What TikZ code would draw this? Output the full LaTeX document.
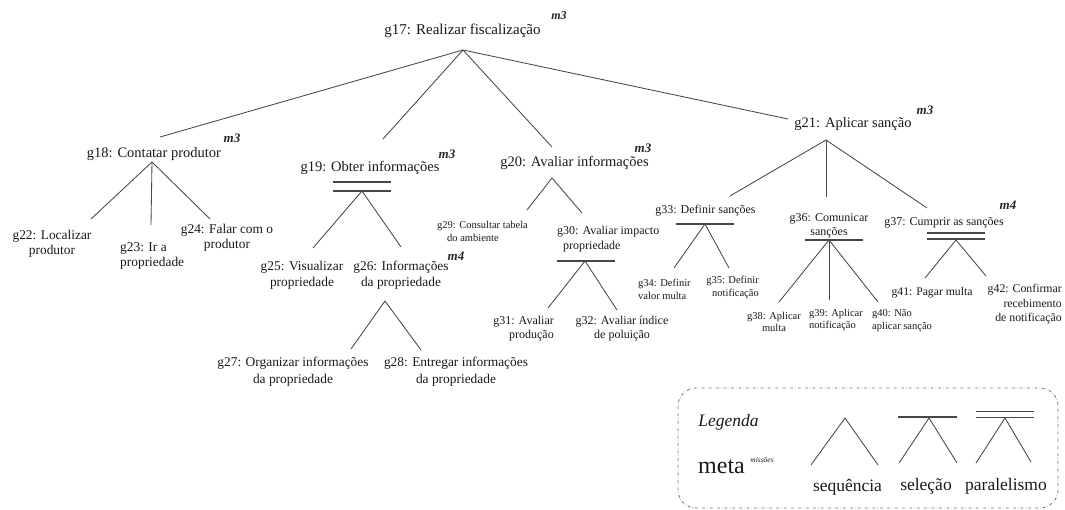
\documentclass[tikz,border=0pt]{standalone}
\usepackage{fontspec}
\setmainfont{Liberation Serif}
\newcommand{\fsz}[2]{\fontsize{#1}{#2}\selectfont}
\begin{document}
\begin{tikzpicture}[x=1pt,y=-1pt,
  lab/.style={inner sep=0pt, text=black!90, align=center},
  mlab/.style={inner sep=0pt, text=black!85, font=\fsz{13}{13}\bfseries\itshape},
  link/.style={draw=black!72, line width=0.85pt},
  bar/.style={draw=black!72, line width=1.1pt}]
\useasboundingbox (0,0) rectangle (1065,510);

% ---------- root goal ----------
\node[lab,font=\fsz{15}{17}] (g17) at (462.5,31) {g17: Realizar fiscalização};
\node[mlab,font=\fsz{12}{12}\bfseries\itshape] (m17) at (559,16) {m3};
\coordinate (a17) at (463,50);
\coordinate (t18) at (160,137);
\coordinate (t19) at (383,139);
\coordinate (t20) at (552,147);
\coordinate (t21) at (788,119);
\foreach \t in {t18,t19,t20,t21} \draw[link] (a17) -- (\t);

% ---------- first level ----------
\node[lab,font=\fsz{14.5}{17}] (g18) at (154,154) {g18: Contatar produtor};
\node[mlab] (m18) at (232,138) {m3};
\node[lab,font=\fsz{14.5}{17}] (g19) at (370,168) {g19: Obter informações};
\node[mlab] (m19) at (447,154) {m3};
\node[lab,font=\fsz{14.5}{17}] (g20) at (574.5,163) {g20: Avaliar informações};
\node[mlab] (m20) at (643,148) {m3};
\node[lab,font=\fsz{14.5}{17}] (g21) at (853,124) {g21: Aplicar sanção};
\node[mlab] (m21) at (925,110) {m3};

% ---------- g18: sequence ----------
\coordinate (a18) at (152,162);
\coordinate (t22) at (91,219);
\coordinate (t23) at (151,225);
\coordinate (t24) at (210,219);
\foreach \t in {t22,t23,t24} \draw[link] (a18) -- (\t);
\node[lab,font=\fsz{13.4}{15}] (g22) at (52,244) {g22: Localizar\\produtor};
\node[lab,font=\fsz{13.4}{15},align=left,anchor=west] (g23) at (120,255.5) {g23: Ir a\\propriedade};
\node[lab,font=\fsz{13.4}{15.5}] (g24) at (227,238) {g24: Falar com o\\produtor};

% ---------- g19: parallelism ----------
\coordinate (a19) at (362,191);
\draw[bar] ([shift={(-29,-9)}]a19) -- ([shift={(29,-9)}]a19);
\draw[bar] ([shift={(-29,0)}]a19) -- ([shift={(29,0)}]a19);
\coordinate (t25) at (313,248);
\coordinate (t26) at (401,247);
\foreach \t in {t25,t26} \draw[link] (a19) -- (\t);
\node[lab,font=\fsz{13.4}{16}] (g25) at (302,275) {g25: Visualizar\\propriedade};
\node[lab,font=\fsz{13.4}{16}] (g26) at (401,275) {g26: Informações\\da propriedade};
\node[mlab] (m26) at (456,256) {m4};
\coordinate (a26) at (385,301);
\coordinate (t27) at (351,349);
\coordinate (t28) at (421,350);
\foreach \t in {t27,t28} \draw[link] (a26) -- (\t);
\node[lab,font=\fsz{13.4}{17}] (g27) at (293,371.5) {g27: Organizar informações\\da propriedade};
\node[lab,font=\fsz{13.4}{17}] (g28) at (456,371.5) {g28: Entregar informações\\da propriedade};

% ---------- g20: sequence ----------
\coordinate (a20) at (552,178);
\coordinate (t29) at (527,210);
\coordinate (t30) at (582,213);
\foreach \t in {t29,t30} \draw[link] (a20) -- (\t);
\node[lab,font=\fsz{10.5}{13},align=left,anchor=west] (g29) at (437,231.5) {g29: Consultar tabela\\\hspace*{10pt}do ambiente};
\node[lab,font=\fsz{12}{15},align=left,anchor=west] (g30) at (557,239.5) {g30: Avaliar impacto\\\hspace*{6pt}propriedade};
\coordinate (a30) at (585,261);
\draw[bar] ([shift={(-28,0)}]a30) -- ([shift={(30,0)}]a30);
\coordinate (t31) at (548,308);
\coordinate (t32) at (617,310);
\foreach \t in {t31,t32} \draw[link] (a30) -- (\t);
\node[lab,font=\fsz{12}{14},align=right,anchor=east] (g31) at (554,329) {g31: Avaliar\\produção};
\node[lab,font=\fsz{12}{14}] (g32) at (622,329) {g32: Avaliar índice\\de poluição};

% ---------- g21: sequence ----------
\coordinate (a21) at (826,140);
\coordinate (t33) at (730,196);
\coordinate (t36) at (826,197);
\coordinate (t37) at (927,208);
\foreach \t in {t33,t36,t37} \draw[link] (a21) -- (\t);

% g33: selection
\node[lab,font=\fsz{12}{14}] (g33) at (705.5,211) {g33: Definir sanções};
\coordinate (a33) at (705,224);
\draw[bar] ([shift={(-29,0)}]a33) -- ([shift={(29,0)}]a33);
\coordinate (t34) at (674,268);
\coordinate (t35) at (729,268);
\foreach \t in {t34,t35} \draw[link] (a33) -- (\t);
\node[lab,font=\fsz{10.5}{13},align=left,anchor=west] (g34) at (638,289.5) {g34: Definir\\valor multa};
\node[lab,font=\fsz{10.5}{13},align=right,anchor=east] (g35) at (759,287.5) {g35: Definir\\notificação};

% g36: selection
\node[lab,font=\fsz{12}{14}] (g36) at (829,226) {g36: Comunicar\\sanções};
\coordinate (a36) at (829,240);
\draw[bar] ([shift={(-24,0)}]a36) -- ([shift={(34,0)}]a36);
\coordinate (t38) at (779,302);
\coordinate (t39) at (829,300);
\coordinate (t40) at (878,302);
\foreach \t in {t38,t39,t40} \draw[link] (a36) -- (\t);
\node[lab,font=\fsz{10.5}{12}] (g38) at (774,322) {g38: Aplicar\\multa};
\node[lab,font=\fsz{10.5}{12},align=left,anchor=west] (g39) at (809,320) {g39: Aplicar\\notificação};
\node[lab,font=\fsz{10.5}{13},align=left,anchor=west] (g40) at (872,320.5) {g40: Não\\aplicar sanção};

% g37: parallelism
\node[lab,font=\fsz{12}{14}] (g37) at (944,223) {g37: Cumprir as sanções};
\node[mlab] (m37) at (1008,205) {m4};
\coordinate (a37) at (956,240);
\draw[bar] ([shift={(-29,-7)}]a37) -- ([shift={(29,-7)}]a37);
\draw[bar] ([shift={(-29,-1)}]a37) -- ([shift={(29,-1)}]a37);
\coordinate (t41) at (925,278);
\coordinate (t42) at (986,276);
\foreach \t in {t41,t42} \draw[link] (a37) -- (\t);
\node[lab,font=\fsz{11.7}{14}] (g41) at (932,293) {g41: Pagar multa};
\node[lab,font=\fsz{11.8}{14.5},align=right,anchor=east] (g42) at (1062,304.5) {g42: Confirmar\\recebimento\\de notificação};

% ---------- legend ----------
\draw[black!55, dash dot, rounded corners=18pt, line width=0.8pt] (678,388) rectangle (1058,508);
\node[lab,font=\fsz{17.5}{18}\itshape] (leg) at (728.5,422) {Legenda};
\node[lab,font=\fsz{24}{24}] (meta) at (721.5,467) {meta};
\node[lab,font=\fsz{7.5}{8}\itshape] (miss) at (762,460) {missões};

% sequence sample
\coordinate (ls) at (845,418);
\draw[link] (811,465) -- (ls) -- (878,465);
\node[lab,font=\fsz{17.5}{18}] (lseq) at (847.5,487) {sequência};
% selection sample
\coordinate (lsel) at (929,418);
\draw[bar] (898,417) -- (957,417);
\draw[link] (899,463) -- (lsel) -- (957,463);
\node[lab,font=\fsz{17.5}{18}] (lselt) at (926,486) {seleção};
% parallelism sample
\coordinate (lpar) at (1005,418);
\draw[bar] (976,411.5) -- (1034,411.5);
\draw[bar] (976,417.3) -- (1034,417.3);
\draw[link] (976,463) -- (lpar) -- (1031,462);
\node[lab,font=\fsz{17.5}{18}] (lpart) at (1006,486) {paralelismo};
\end{tikzpicture}
\end{document}
